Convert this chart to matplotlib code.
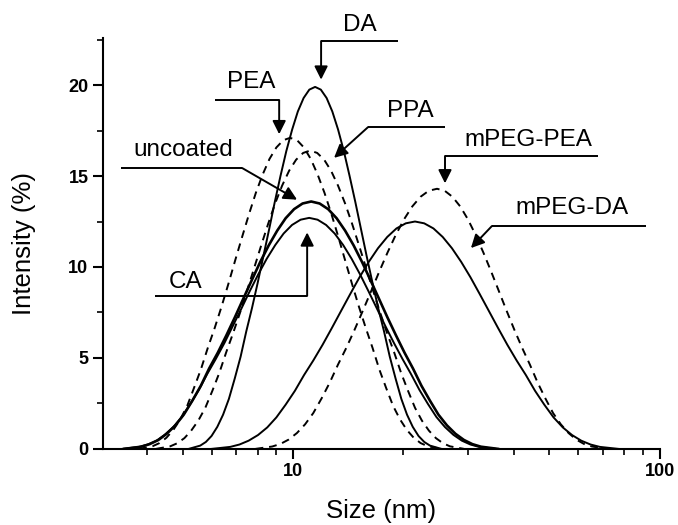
import matplotlib.pyplot as plt
from matplotlib.ticker import LogLocator, NullFormatter, FixedLocator, FixedFormatter, MultipleLocator

plt.rcParams['font.family'] = ['Liberation Sans', 'DejaVu Sans']

# Données : taille (nm) et intensité (%)
da_size = [5.19, 5.58, 5.78, 5.99, 6.21, 6.44, 6.68, 6.93, 7.19, 7.45, 7.72, 8.00, 8.29, 8.60,
           8.91, 9.24, 9.58, 9.94, 10.30, 10.68, 11.07, 11.48, 11.90, 12.34, 12.79, 13.26,
           13.75, 14.25, 14.78, 15.32, 15.88, 16.47, 17.07, 17.70, 18.35, 19.03, 19.73,
           20.45, 21.20, 21.98, 22.79, 23.62, 25.38]
da_int = [0, 0.18, 0.38, 0.71, 1.21, 1.88, 2.75, 3.87, 5.07, 6.46, 7.73, 9.11, 10.57, 12.07,
          13.57, 15.02, 16.37, 17.56, 18.55, 19.29, 19.75, 19.90, 19.75, 19.29, 18.55, 17.56,
          16.37, 15.02, 13.57, 12.07, 10.57, 9.11, 7.73, 6.46, 5.07, 3.87, 2.75,
          1.88, 1.21, 0.71, 0.38, 0.18, 0]

unc_size = [3.46, 3.85, 4.06, 4.29, 4.52, 4.77, 5.03, 5.31, 5.60, 5.90, 6.23, 6.57, 6.93, 7.31,
            7.71, 8.13, 8.58, 9.05, 9.54, 10.06, 10.61, 11.20, 11.81, 12.46, 13.14, 13.86,
            14.62, 15.42, 16.26, 17.15, 18.09, 19.09, 20.13, 21.23, 22.39, 23.62, 24.91,
            26.28, 27.72, 29.24, 30.84, 32.53, 36.20]
unc_int = [0, 0.12, 0.26, 0.49, 0.83, 1.29, 1.88, 2.65, 3.47, 4.42, 5.29, 6.23, 7.22, 8.25,
           9.27, 10.27, 11.19, 12.00, 12.68, 13.18, 13.49, 13.60, 13.49, 13.18, 12.68, 12.00,
           11.19, 10.27, 9.27, 8.25, 7.22, 6.23, 5.29, 4.42, 3.47, 2.65, 1.88,
           1.29, 0.83, 0.49, 0.26, 0.12, 0]

ca_size = [3.42, 3.80, 4.01, 4.24, 4.46, 4.71, 4.97, 5.24, 5.53, 5.83, 6.15, 6.49, 6.84, 7.22,
           7.61, 8.03, 8.47, 8.94, 9.42, 9.93, 10.48, 11.06, 11.66, 12.30, 12.98, 13.69,
           14.44, 15.23, 16.06, 16.94, 17.86, 18.85, 19.88, 20.96, 22.11, 23.32, 24.60,
           25.95, 27.37, 28.87, 30.45, 32.12, 35.75]
ca_int = [0, 0.11, 0.24, 0.45, 0.77, 1.20, 1.75, 2.47, 3.24, 4.12, 4.94, 5.81, 6.74, 7.70,
          8.66, 9.59, 10.45, 11.21, 11.84, 12.31, 12.60, 12.70, 12.60, 12.31, 11.84, 11.21,
          10.45, 9.59, 8.66, 7.70, 6.74, 5.81, 4.94, 4.12, 3.24, 2.47, 1.75,
          1.20, 0.77, 0.45, 0.24, 0.11, 0]

pea_size = [3.80, 4.14, 4.32, 4.51, 4.71, 4.92, 5.14, 5.36, 5.60, 5.85, 6.11, 6.38, 6.66, 6.95,
            7.26, 7.58, 7.91, 8.26, 8.62, 9.00, 9.40, 9.81, 10.25, 10.70, 11.17, 11.66,
            12.18, 12.72, 13.28, 13.86, 14.47, 15.11, 15.78, 16.47, 17.19, 17.95, 18.74,
            19.57, 20.43, 21.33, 22.27, 23.25, 25.35]
pea_int = [0, 0.15, 0.32, 0.61, 1.04, 1.62, 2.36, 3.33, 4.36, 5.55, 6.65, 7.83, 9.08, 10.37,
           11.66, 12.91, 14.07, 15.09, 15.94, 16.57, 16.97, 17.10, 16.97, 16.57, 15.94, 15.09,
           14.07, 12.91, 11.66, 10.37, 9.08, 7.83, 6.65, 5.55, 4.36, 3.33, 2.36,
           1.62, 1.04, 0.61, 0.32, 0.15, 0]

ppa_size = [4.23, 4.62, 4.83, 5.05, 5.27, 5.51, 5.76, 6.02, 6.29, 6.57, 6.86, 7.17, 7.49, 7.83,
            8.18, 8.55, 8.93, 9.33, 9.75, 10.19, 10.65, 11.13, 11.63, 12.15, 12.69, 13.26,
            13.86, 14.48, 15.13, 15.81, 16.52, 17.26, 18.04, 18.85, 19.70, 20.58, 21.50,
            22.46, 23.47, 24.52, 25.63, 26.78, 29.24]
ppa_int = [0, 0.14, 0.31, 0.59, 1.00, 1.55, 2.26, 3.19, 4.18, 5.32, 6.37, 7.51, 8.71, 9.95,
           11.18, 12.38, 13.49, 14.47, 15.29, 15.90, 16.27, 16.40, 16.27, 15.90, 15.29, 14.47,
           13.49, 12.38, 11.18, 9.95, 8.71, 7.51, 6.37, 5.32, 4.18, 3.19, 2.26,
           1.55, 1.00, 0.59, 0.31, 0.14, 0]

mda_size = [6.00, 6.74, 7.14, 7.56, 8.02, 8.50, 9.00, 9.54, 10.11, 10.71, 11.35, 12.03, 12.75,
            13.51, 14.32, 15.18, 16.08, 17.04, 18.06, 19.14, 20.29, 21.50, 22.78, 24.14,
            25.59, 27.12, 28.74, 30.45, 32.27, 34.20, 36.24, 38.41, 40.71, 43.14, 45.71,
            48.44, 51.34, 54.41, 57.66, 61.11, 64.76, 68.63, 77.08]
mda_int = [0, 0.11, 0.24, 0.45, 0.76, 1.18, 1.73, 2.43, 3.19, 4.06, 4.86, 5.72, 6.64, 7.58,
           8.52, 9.44, 10.28, 11.03, 11.65, 12.12, 12.40, 12.50, 12.40, 12.12, 11.65, 11.03,
           10.28, 9.44, 8.52, 7.58, 6.64, 5.72, 4.86, 4.06, 3.19, 2.43, 1.73,
           1.18, 0.76, 0.45, 0.24, 0.11, 0]

mpea_size = [7.90, 8.77, 9.23, 9.72, 10.24, 10.78, 11.35, 11.96, 12.59, 13.26, 13.97, 14.71,
             15.49, 16.32, 17.18, 18.09, 19.05, 20.07, 21.14, 22.26, 23.44, 24.69, 25.91,
             27.20, 28.56, 29.98, 31.47, 33.04, 34.69, 36.42, 38.23, 40.13, 42.13, 44.23,
             46.44, 48.75, 51.18, 53.73, 56.41, 59.22, 62.17, 65.27, 71.93]
mpea_int = [0, 0.13, 0.27, 0.51, 0.87, 1.35, 1.97, 2.78, 3.65, 4.64, 5.56, 6.55, 7.59, 8.67,
            9.75, 10.79, 11.76, 12.62, 13.33, 13.86, 14.19, 14.30, 14.19, 13.86, 13.33, 12.62,
            11.76, 10.79, 9.75, 8.67, 7.59, 6.55, 5.56, 4.64, 3.65, 2.78, 1.97,
            1.35, 0.87, 0.51, 0.27, 0.13, 0]

fig = plt.figure(figsize=(6.78, 5.25), dpi=100)
ax = fig.add_axes([0.152, 0.145, 0.821, 0.783])

tiret = (0, (4, 3))
ax.plot(da_size, da_int, color='black', lw=1.4)
ax.plot(unc_size, unc_int, color='black', lw=1.9)
ax.plot(ca_size, ca_int, color='black', lw=1.4)
ax.plot(pea_size, pea_int, color='black', lw=1.4, linestyle=tiret)
ax.plot(ppa_size, ppa_int, color='black', lw=1.4, linestyle=tiret)
ax.plot(mda_size, mda_int, color='black', lw=1.4)
ax.plot(mpea_size, mpea_int, color='black', lw=1.4, linestyle=tiret)

ax.set_xscale('log')
ax.set_xlim(3.03, 100)
ax.set_ylim(0, 22.6)

# Axes : seulement gauche et bas
for cote in ['top', 'right']:
    ax.spines[cote].set_visible(False)
for cote in ['left', 'bottom']:
    ax.spines[cote].set_linewidth(1.5)

ax.xaxis.set_major_locator(FixedLocator([10, 100]))
ax.xaxis.set_major_formatter(FixedFormatter(['10', '100']))
ax.xaxis.set_minor_locator(LogLocator(base=10, subs=range(2, 10)))
ax.xaxis.set_minor_formatter(NullFormatter())
ax.yaxis.set_major_locator(MultipleLocator(5))
ax.yaxis.set_minor_locator(MultipleLocator(2.5))

ax.tick_params(which='major', length=7, width=1.5, labelsize=13)
ax.tick_params(which='minor', length=4, width=1.2)
for lab in ax.get_xticklabels() + ax.get_yticklabels():
    lab.set_fontweight('bold')

ax.set_xlabel('Size (nm)', fontsize=18.5, labelpad=13)
ax.set_ylabel('Intensity (%)', fontsize=18.5, labelpad=23)

# Étiquettes avec flèches : texte, départ du trait, coin, pointe
etiquettes = [
    ('DA', (15.2, 23.3), (19.3, 22.42), (11.92, 22.42), (11.92, 20.3)),
    ('PEA', (7.69, 20.16), (6.13, 19.18), (9.16, 19.18), (9.16, 17.3)),
    ('uncoated', (5.01, 16.43), (3.40, 15.44), (7.26, 15.44), (10.25, 13.7)),
    ('PPA', (20.84, 18.57), (25.96, 17.69), (16.01, 17.69), (12.93, 16.0)),
    ('mPEG-PEA', (43.95, 16.98), (67.7, 16.10), (25.96, 16.10), (25.96, 14.6)),
    ('mPEG-DA', (57.6, 13.24), (91.6, 12.25), (34.85, 12.25), (30.55, 11.04)),
    ('CA', (5.08, 9.18), (4.21, 8.41), (10.92, 8.41), (10.92, 11.9)),
]
for texte, pos, debut, coin, pointe in etiquettes:
    ax.text(pos[0], pos[1], texte, fontsize=17.5, ha='center', va='center')
    ax.plot([debut[0], coin[0]], [debut[1], coin[1]], color='black', lw=1.4,
            clip_on=False, solid_capstyle='butt')
    ax.annotate('', xy=pointe, xytext=coin,
                arrowprops=dict(arrowstyle='-|>', color='black', lw=1.4,
                                mutation_scale=20, shrinkA=0, shrinkB=0),
                annotation_clip=False)

fig.savefig('out.png', dpi=100)
